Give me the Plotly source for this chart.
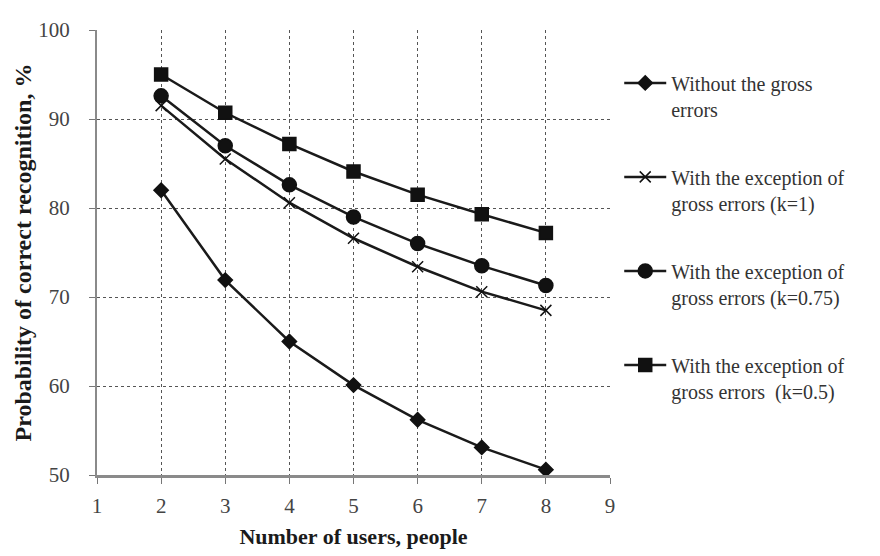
import plotly.graph_objects as go

users = [2, 3, 4, 5, 6, 7, 8]
without_gross = [82.0, 71.9, 65.0, 60.1, 56.2, 53.1, 50.6]
k_1 = [91.5, 85.5, 80.6, 76.6, 73.4, 70.6, 68.5]
k_075 = [92.6, 87.0, 82.6, 79.0, 76.0, 73.5, 71.3]
k_05 = [95.0, 90.7, 87.2, 84.1, 81.5, 79.3, 77.2]

x_ticks = [1, 2, 3, 4, 5, 6, 7, 8, 9]
y_ticks = [50, 60, 70, 80, 90, 100]

names = [
    "Without the gross<br>errors",
    "With the exception of<br>gross errors (k=1)",
    "With the exception of<br>gross errors (k=0.75)",
    "With the exception of<br>gross errors  (k=0.5)",
]
series = [without_gross, k_1, k_075, k_05]
symbols = ["diamond", "x-thin-open", "circle", "square"]
sizes = [11, 11, 14, 13]

fig = go.Figure()
for i, (nm, ys, sym, sz) in enumerate(zip(names, series, symbols, sizes)):
    fig.add_trace(go.Scatter(
        x=users, y=ys, name=nm, mode="lines+markers",
        line=dict(color="#1a1a1a", width=2.5),
        marker=dict(symbol=sym, size=sz, color="#111111",
                    line=dict(color="#111111", width=1.5)),
        legendgroup=str(i),
    ))

font_family = "Liberation Serif"
fig.update_layout(
    width=880, height=556,
    paper_bgcolor="white", plot_bgcolor="white",
    margin=dict(l=89, r=278, t=22, b=89),
    font=dict(family=font_family, color="#333333", size=16),
    showlegend=True,
    legend=dict(x=1.018, y=0.925, xanchor="left", yanchor="top", valign="top",
                font=dict(family=font_family, size=20, color="#333333"),
                tracegroupgap=39, itemwidth=42, bgcolor="rgba(0,0,0,0)"),
    xaxis=dict(
        range=[1, 9], tickvals=x_ticks, automargin=False,
        showgrid=True, gridcolor="#555555", griddash="dot", gridwidth=1,
        showline=True, linecolor="#8a8a8a", linewidth=2.5,
        ticks="outside", ticklen=6, tickcolor="#777777",
        ticklabelstandoff=4,
        zeroline=False, tickfont=dict(size=21, color="#444444"),
        title=dict(text="<b>Number of users, people</b>",
                   font=dict(size=22, color="#1a1a1a"), standoff=12),
    ),
    yaxis=dict(
        range=[50, 100], tickvals=y_ticks, automargin=False,
        showgrid=False,
        minor=dict(tickmode="array", tickvals=[60, 70, 80, 90],
                   showgrid=True, gridcolor="#555555", griddash="dot",
                   gridwidth=1, ticks=""),
        showline=True, linecolor="#8a8a8a", linewidth=2,
        ticks="outside", ticklen=6, tickcolor="#777777",
        ticklabelstandoff=15,
        zeroline=False, tickfont=dict(size=21, color="#444444"),
        title=dict(text="<b>Probability of correct recognition, %</b>",
                   font=dict(size=24, color="#1a1a1a"), standoff=0),
    ),
)

fig.write_html("out.html")
